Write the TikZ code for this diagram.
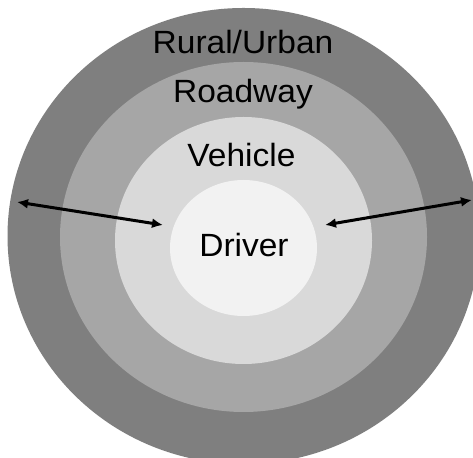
\documentclass[tikz,border=0pt]{standalone}
\usepackage{fontspec}
\setmainfont{Liberation Sans}
\usetikzlibrary{arrows.meta}
\definecolor{gOuter}{HTML}{7F7F7F}
\definecolor{gRoad}{HTML}{A6A6A6}
\definecolor{gVeh}{HTML}{D9D9D9}
\definecolor{gDrv}{HTML}{F2F2F2}
\begin{document}
\begin{tikzpicture}[x=1pt,y=1pt,
  lbl/.style={font=\fontsize{33.5}{36}\selectfont, text=black, anchor=base, inner sep=0pt, yscale=0.96},
  dblarrow/.style={line width=3pt, {Latex[length=11pt,width=10pt]}-{Latex[length=11pt,width=10pt]}}]
\useasboundingbox (0,0) rectangle (473,457);
\fill[white] (0,0) rectangle (473,457);
\begin{scope}
\clip (0,0) rectangle (473,457);
\fill[gOuter] (243.5,221) ellipse [x radius=236, y radius=228];
\fill[gRoad] (243.5,220) ellipse [x radius=183.5, y radius=175];
\fill[gVeh] (243.5,216.5) ellipse [x radius=128.5, y radius=123.5];
\fill[gDrv] (243.5,209) ellipse [x radius=73.5, y radius=68];
\end{scope}
\node[lbl] (rural) at (243,403.7) {Rural/Urban};
\node[lbl] (road) at (243,354.3) {Roadway};
\node[lbl] (veh) at (241.5,290.3) {Vehicle};
\node[lbl] (drv) at (244,200.3) {Driver};
\coordinate (lOut) at (17,255);
\coordinate (lIn) at (163,232);
\coordinate (rIn) at (325,232);
\coordinate (rOut) at (472,257);
\draw[dblarrow] (lOut) -- (lIn);
\draw[dblarrow] (rIn) -- (rOut);
\end{tikzpicture}
\end{document}
